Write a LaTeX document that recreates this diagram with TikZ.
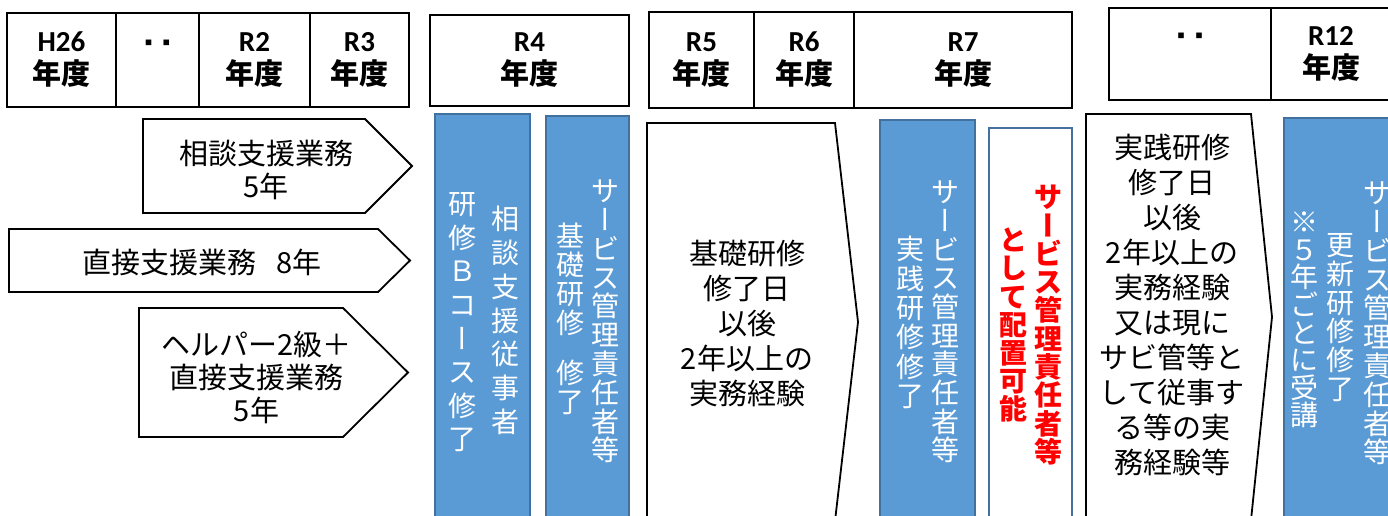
\documentclass[tikz,border=0pt]{standalone}
\usepackage{fontspec}
\usepackage{graphicx}
\usetikzlibrary{positioning}
\usetikzlibrary{calc}
\setmainfont{Noto Sans CJK JP}
\newfontfamily\latinfont{Carlito}
\definecolor{barblue}{HTML}{5B9BD5}
\definecolor{barline}{HTML}{41719C}
\definecolor{kyouchou}{HTML}{FF0000}
\tikzset{hcell/.style={draw=black,line width=2pt,outer sep=0pt,inner sep=0pt,
  minimum height=#1,align=center,font=\bfseries\fontsize{29}{33}\selectfont},hcell/.default=94pt}
\tikzset{tchar/.style={inner sep=0pt,text height=24.6pt,text depth=3.4pt,
  text=white,font=\fontsize{28}{28}\selectfont}}

% chouon for vertical text
\newcommand{\vchon}{\rotatebox[origin=c]{-90}{\rule[-0.12em]{0pt}{1em}ー}}
\newcommand{\tenten}{{\fontsize{7}{7}\selectfont ■\hspace{11pt}■}}
% one column of vertical text: [style]{name}{x}{y of first char}{step}{chars}
\newcommand{\tatecol}[6][]{%
  \foreach \c [count=\i] in {#6}
    \node[tchar,#1] (#2-\i) at (#3,{#4+(\i-1)*#5}) {\c};}

\begin{document}
\begin{tikzpicture}[x=1pt,y=-1pt,
                    arrowbox/.style={draw=black,line width=1.8pt,fill=white,line join=miter},
                    bar/.style={fill=barblue,draw=barline,line width=1.5pt},
                    ytext/.style={inner sep=0pt,align=center,font=\fontsize{29}{33}\selectfont}]

    \useasboundingbox (0,0) rectangle (1388,516);
    \clip (0,0) rectangle (1388,516);

    % Header H26 .. R3
    \node[hcell, minimum width=109pt, anchor=west] (h26) at (7,60) {{\latinfont H26}\\年度};
    \node[hcell, minimum width=83pt, right=0pt of h26] (dotsA) {};
    \node[hcell, minimum width=111pt, right=0pt of dotsA] (r2) {{\latinfont R2}\\年度};
    \node[hcell, minimum width=99pt, right=0pt of r2] (r3) {{\latinfont R3}\\年度};
    \node (tentenA) at ($(dotsA.center)+(0,-17)$) {\tenten};

    % Header R4
    \node[hcell=91pt, minimum width=199pt] (r4) at (529.5,60.5) {{\latinfont R4}\\年度};

    % Header R5 .. R7
    \node[hcell=96pt, minimum width=105pt, anchor=west] (r5) at (649,60) {{\latinfont R5}\\年度};
    \node[hcell=96pt, minimum width=100pt, right=0pt of r5] (r6) {{\latinfont R6}\\年度};
    \node[hcell=96pt, minimum width=218pt, right=0pt of r6] (r7) {{\latinfont R7}\\年度};

    % Header .. R12
    \node[hcell=92pt, minimum width=162pt, anchor=west] (dotsB) at (1109,54) {};
    \node[hcell=92pt, minimum width=120pt, right=0pt of dotsB] (r12) {{\latinfont R12}\\年度};
    \node (tentenB) at ($(dotsB.center)+(0,-18)$) {\tenten};

    % Arrows of experience
    \draw[arrowbox] (143,119) -- (365,119) -- (412,166) -- (365,213) -- (143,213) -- cycle;
    \node[ytext] (soudan) at (266,169.5) {相談支援業務\\5年};

    \draw[arrowbox] (9,229) -- (378,229) -- (410,260.5) -- (378,292) -- (9,292) -- cycle;
    \node[ytext] (chokusetsu) at (202,262) {直接支援業務\hspace{0.7em}8年};

    \draw[arrowbox] (139,308) -- (343,308) -- (408,372.5) -- (343,437) -- (139,437) -- cycle;
    \node[ytext] (helper) at (256.5,377) {ヘルパー2級＋\\直接支援業務\\5年};

    % Bar: sodan shienin
    \draw[bar] (435,114) rectangle (530,530);
    \tatecol{soudanA}{505}{219}{33.8}{相,談,支,援,従,事,者}
    \tatecol{soudanB}{462}{204}{33.6}{研,修,Ｂ,コ,\vchon,ス,修,了}

    % Bar: kiso kenshu
    \draw[bar] (546,116) rectangle (629,530);
    \tatecol{kisoA}{605}{191}{28.8}{サ,\vchon,ビ,ス,管,理,責,任,者,等}
    \tatecol{kisoB}{570}{236}{29}{基,礎,研,修}
    \tatecol{kisoC}{570}{373}{29}{修,了}

    % Chevron: after kiso
    \draw[arrowbox] (647,123) -- (835,123) -- (858,322) -- (835,521) -- (647,521) -- cycle;
    \node[ytext, font=\fontsize{29}{35.2}\selectfont] (kiso) at (747,323.5)
        {基礎研修\\修了日\\以後\\2年以上の\\実務経験};

    % Bar: jissen kenshu
    \draw[bar] (880,120) rectangle (975,530);
    \tatecol{jissenA}{945}{192}{28.7}{サ,\vchon,ビ,ス,管,理,責,任,者,等}
    \tatecol{jissenB}{910}{249}{29.4}{実,践,研,修,修,了}

    % Bar: haichi kanou
    \draw[bar, fill=white] (989,128) rectangle (1072,530);
    \tatecol[text=kyouchou,font=\bfseries\fontsize{28}{28}\selectfont]{haichiA}{1048}{197}{28.3}{サ,\vchon,ビ,ス,管,理,責,任,者,等}
    \tatecol[text=kyouchou,font=\bfseries\fontsize{28}{28}\selectfont]{haichiB}{1013}{240}{28.2}{と,し,て,配,置,可,能}

    % Chevron: after jissen
    \draw[arrowbox] (1086,114) -- (1251,114) -- (1272,317) -- (1251,520) -- (1086,520) -- cycle;
    \node[ytext, font=\fontsize{29}{35.1}\selectfont] (jissen) at (1172,305)
        {実践研修\\修了日\\以後\\2年以上の\\実務経験\\又は現に\\サビ管等と\\して従事す\\る等の実\\務経験等};

    % Bar: koushin kenshu
    \draw[bar] (1284,118) rectangle (1400,530);
    \tatecol{koushinA}{1377}{193}{28.8}{サ,\vchon,ビ,ス,管,理,責,任,者,等}
    \tatecol{koushinB}{1340}{245}{28.7}{更,新,研,修,修,了}
    \tatecol{koushinC}{1304}{222}{27.6}{※,５,年,ご,と,に,受,講}

\end{tikzpicture}
\end{document}
